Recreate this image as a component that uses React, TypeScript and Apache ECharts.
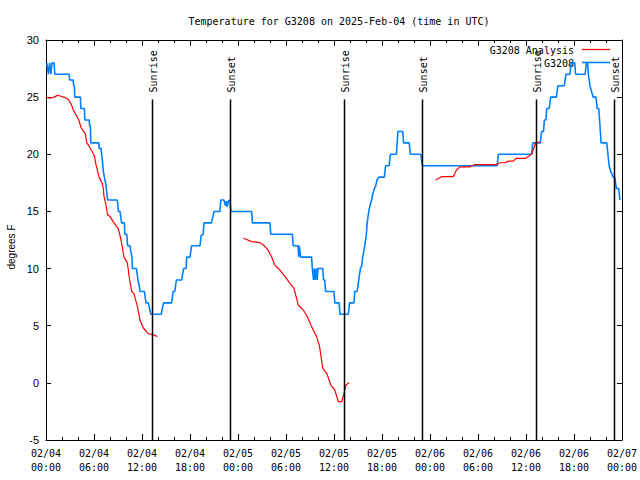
import React, { useEffect, useRef } from "react";
import * as echarts from "echarts";

// ---- Data (hours since 2025-02-04 00:00 UTC) ----
const titleText = "Temperature for G3208 on 2025-Feb-04 (time in UTC)";
const yAxisName = "degrees F";
const xTickLabels = [
  "02/04\n00:00", "02/04\n06:00", "02/04\n12:00", "02/04\n18:00",
  "02/05\n00:00", "02/05\n06:00", "02/05\n12:00", "02/05\n18:00",
  "02/06\n00:00", "02/06\n06:00", "02/06\n12:00", "02/06\n18:00",
  "02/07\n00:00",
];
const legendNames = ["G3208 Analysis", "G3208"];

// Observed G3208 temperatures [hour, degF]
const blueObs: number[][] = [
  [0.1, 28], [0.3, 27], [0.45, 28], [0.6, 27], [0.75, 28], [1.0, 28], [1.1, 27], [2.9, 27],
  [2.95, 26.5], [3.4, 26.5], [3.45, 26], [3.55, 26], [3.6, 25], [4.3, 25], [4.35, 24], [4.8, 24],
  [4.85, 23], [5.4, 23], [5.45, 22.5], [5.55, 22.5], [5.6, 21], [6.6, 21], [6.65, 20.5], [6.9, 20.5],
  [6.95, 20], [7.05, 19.5], [7.15, 18.6], [7.3, 18], [7.45, 17.5], [7.6, 16.7], [7.7, 16], [8.9, 16],
  [9.0, 15.5], [9.05, 15], [9.25, 15], [9.35, 14.5], [9.45, 14], [9.8, 14], [9.85, 13], [10.1, 13],
  [10.15, 12.5], [10.2, 12], [10.5, 12], [10.6, 11.5], [10.75, 11], [10.8, 10], [11.3, 10], [11.4, 9.5],
  [11.5, 9], [11.65, 8.5], [11.75, 8], [12.3, 8], [12.4, 7.5], [12.5, 7], [12.8, 7], [12.95, 6.5],
  [13.1, 6], [14.4, 6], [14.7, 7], [15.7, 7], [15.9, 8], [16.1, 8], [16.3, 9], [16.96, 9],
  [17.2, 10], [17.5, 10], [17.6, 11], [18.0, 11], [18.2, 12], [19.25, 12], [19.4, 12.9], [19.65, 13],
  [19.75, 14], [20.7, 14], [21.0, 15], [21.75, 15], [21.85, 16], [22.25, 16], [22.45, 15.5], [22.55, 15.9],
  [22.65, 15.4], [22.8, 15.9], [23.0, 16], [23.1, 15], [25.7, 15], [25.8, 14], [28.0, 14], [28.1, 13],
  [30.8, 13], [30.9, 12], [31.5, 12], [31.6, 11], [31.65, 12], [31.75, 11.5], [31.85, 11], [33.2, 11],
  [33.3, 10], [33.45, 9], [33.55, 10], [33.65, 9], [33.8, 10], [33.9, 9], [34.0, 10], [34.6, 10],
  [34.7, 9], [34.85, 9], [34.95, 8], [36.0, 8], [36.1, 7], [36.65, 7], [36.75, 6], [37.8, 6],
  [37.95, 7], [38.5, 7], [38.6, 8], [38.9, 8], [39.1, 9], [39.3, 10], [39.45, 10.2], [39.6, 11],
  [39.85, 12], [40.05, 13], [40.15, 14], [40.35, 15], [40.5, 15.5], [40.7, 16], [40.85, 16.5], [41.05, 17],
  [41.2, 17.2], [41.4, 17.8], [41.6, 18], [42.3, 18], [42.45, 19], [42.9, 19], [43.05, 20], [43.8, 20],
  [43.9, 21], [44.0, 22], [44.6, 22], [44.7, 21], [45.4, 21], [45.55, 20], [46.85, 20], [47.05, 19],
  [56.4, 19], [56.55, 20], [60.7, 20], [60.85, 21], [61.8, 21], [61.95, 22], [62.2, 22], [62.3, 23],
  [62.5, 23], [62.6, 24], [62.9, 24], [63.1, 25], [63.8, 25], [64.0, 26], [64.8, 26], [65.0, 27],
  [65.5, 27], [65.65, 28], [66.1, 28], [66.2, 27], [67.4, 27], [67.55, 28], [67.7, 28], [67.8, 27],
  [68.0, 26], [68.2, 25.5], [68.4, 25], [68.75, 25], [68.9, 24], [69.1, 24], [69.2, 23], [69.3, 22],
  [69.4, 21], [70.1, 21], [70.25, 20], [70.4, 19], [70.6, 18.5], [70.9, 18], [71.1, 18], [71.2, 17.5],
  [71.3, 17], [71.6, 17], [71.75, 16],
];

// Analysis temperatures (three runs) [hour, degF]
const analysisRun1: number[][] = [
  [0.0, 25.0], [0.5, 24.9], [1.0, 25.0], [1.4, 25.15], [1.8, 25.1], [2.2, 25.0], [2.6, 24.9],
  [2.9, 24.7], [3.2, 24.3], [3.4, 23.9], [3.8, 23.4], [4.1, 23.0], [4.4, 22.3], [4.9, 21.8],
  [5.1, 21.0], [5.4, 20.7], [5.63, 20.4], [6.04, 19.9], [6.21, 19.2], [6.46, 18.5], [6.63, 18.0],
  [7.0, 17.5], [7.17, 17.0], [7.25, 16.3], [7.46, 15.7], [7.71, 14.7], [8.0, 14.55], [8.5, 14.0],
  [9.04, 13.5], [9.38, 12.5], [9.75, 11.0], [10.17, 10.5], [10.42, 9.15], [10.71, 8.0], [11.0, 7.8],
  [11.42, 6.7], [11.75, 5.5], [12.17, 4.8], [12.79, 4.3], [13.42, 4.2], [13.92, 4.05],
];
const analysisRun2: number[][] = [
  [24.67, 12.65], [25.0, 12.56], [25.7, 12.36], [26.75, 12.27], [27.17, 12.06], [27.7, 11.68],
  [28.2, 11.04], [28.6, 10.3], [29.25, 9.87], [29.88, 9.29], [30.5, 8.71], [31.0, 8.27],
  [31.54, 6.81], [32.17, 6.37], [32.67, 5.79], [33.2, 4.92], [33.83, 4.04], [34.2, 3.17],
  [34.6, 1.27], [35.1, 0.83], [35.6, -0.19], [36.1, -0.62], [36.54, -1.65], [36.96, -1.65],
  [37.25, -0.92], [37.5, -0.19], [37.9, 0.02],
];
const analysisRun3: number[][] = [
  [48.7, 17.75], [49.46, 18.04], [50.9, 18.04], [51.3, 18.6], [51.75, 18.9], [53.0, 18.9],
  [53.6, 19.1], [56.3, 19.1], [56.75, 19.26], [57.4, 19.26], [57.8, 19.4], [58.4, 19.4],
  [58.8, 19.65], [60.0, 19.65], [60.7, 20.0], [61.25, 21.05], [61.8, 21.05],
];

// Sun events [hour]
const sunEventHours = [13.25, 23.0, 37.25, 47.0, 61.25, 71.0];
const sunEventLabels = ["Sunrise", "Sunset", "Sunrise", "Sunset", "Sunrise", "Sunset"];

const MONO = '"DejaVu Sans Mono", monospace';
const SANS = '"Liberation Sans", Arial, sans-serif';
const RED = "#ff0000";
const BLUE = "#0080ff";

function makeXAxis(position: "top" | "bottom", showLabels: boolean) {
  return {
    type: "value",
    position,
    min: 0,
    max: 72,
    interval: 6,
    axisLine: { show: true, onZero: false, lineStyle: { color: "#000", width: 1 } },
    axisTick: { show: true, inside: true, length: 6, lineStyle: { color: "#000", width: 1 } },
    minorTick: { show: true, splitNumber: 3, length: 3, lineStyle: { color: "#000", width: 1 } },
    splitLine: { show: false },
    minorSplitLine: { show: false },
    axisLabel: {
      show: showLabels,
      formatter: (v: number) => xTickLabels[Math.round(v / 6)] ?? "",
      fontFamily: MONO,
      fontSize: 10,
      lineHeight: 14,
      margin: 6,
      color: "#000",
    },
  };
}

function makeYAxis(position: "left" | "right", showLabels: boolean) {
  return {
    type: "value",
    position,
    min: -5,
    max: 30,
    interval: 5,
    axisLine: { show: true, onZero: false, lineStyle: { color: "#000", width: 1 } },
    axisTick: { show: true, inside: true, length: 5, lineStyle: { color: "#000", width: 1 } },
    splitLine: { show: false },
    axisLabel: {
      show: showLabels,
      fontFamily: SANS,
      fontSize: 11,
      margin: 7,
      color: "#000",
    },
  };
}

export default function App() {
  const ref = useRef<HTMLDivElement>(null);

  useEffect(() => {
    if (!ref.current) return;
    const chart = echarts.init(ref.current, undefined, { renderer: "svg" });

    const sunData = sunEventHours.map((h) => [h, -5]);

    const option: any = {
      animation: false,
      backgroundColor: "#ffffff",
      title: {
        text: titleText,
        left: 334,
        top: 10,
        textAlign: "center",
        textStyle: { fontFamily: MONO, fontSize: 10, fontWeight: "normal", color: "#000", lineHeight: 12 },
      },
      grid: { left: 46, right: 18, top: 40, bottom: 40, containLabel: false },
      xAxis: [makeXAxis("bottom", true), makeXAxis("top", false)],
      yAxis: [makeYAxis("left", true), makeYAxis("right", false)],
      series: [
        {
          name: legendNames[1],
          type: "line",
          data: blueObs,
          showSymbol: false,
          symbol: "none",
          lineStyle: { color: BLUE, width: 1.6 },
          z: 2,
        },
        ...[analysisRun1, analysisRun2, analysisRun3].map((run) => ({
          name: legendNames[0],
          type: "line",
          data: run,
          showSymbol: false,
          symbol: "none",
          lineStyle: { color: RED, width: 1.2 },
          z: 3,
        })),
        {
          type: "custom",
          data: sunData,
          encode: { x: 0, y: 1 },
          z: 4,
          clip: false,
          renderItem: (params: any, api: any) => {
            const t = api.value(0);
            const bottom = api.coord([t, -5]);
            const top = api.coord([t, 24.8]);
            const label = sunEventLabels[params.dataIndex];
            const lx = Math.round(bottom[0]) + 0.5;
            return {
              type: "group",
              children: [
                {
                  type: "line",
                  shape: { x1: lx, y1: bottom[1], x2: lx, y2: top[1] },
                  style: { stroke: "#000", lineWidth: 1.5 },
                },
                {
                  type: "text",
                  x: bottom[0] + 2,
                  y: top[1] - 7,
                  rotation: Math.PI / 2,
                  style: {
                    text: label,
                    fill: "#000",
                    font: `10px ${MONO}`,
                    align: "left",
                    verticalAlign: "middle",
                  },
                },
              ],
            };
          },
        },
      ],
      graphic: [
        {
          type: "text",
          x: 11,
          y: 247,
          rotation: Math.PI / 2,
          style: { text: yAxisName, fill: "#000", font: `10px ${SANS}`, align: "center", verticalAlign: "middle" },
        },
        {
          type: "text",
          x: 574,
          y: 50,
          style: { text: legendNames[0], fill: "#000", font: `10px ${MONO}`, align: "right", verticalAlign: "middle" },
        },
        { type: "line", shape: { x1: 582, y1: 49.5, x2: 610, y2: 49.5 }, style: { stroke: RED, lineWidth: 1.2 } },
        {
          type: "text",
          x: 574,
          y: 63,
          style: { text: legendNames[1], fill: "#000", font: `10px ${MONO}`, align: "right", verticalAlign: "middle" },
        },
        { type: "line", shape: { x1: 582, y1: 62.5, x2: 610, y2: 62.5 }, style: { stroke: BLUE, lineWidth: 1.6 } },
      ],
    };

    chart.setOption(option);
    return () => chart.dispose();
  }, []);

  return (
    <div
      ref={ref}
      style={{ position: "fixed", left: 0, top: 0, width: 640, height: 480, background: "#fff" }}
    />
  );
}
